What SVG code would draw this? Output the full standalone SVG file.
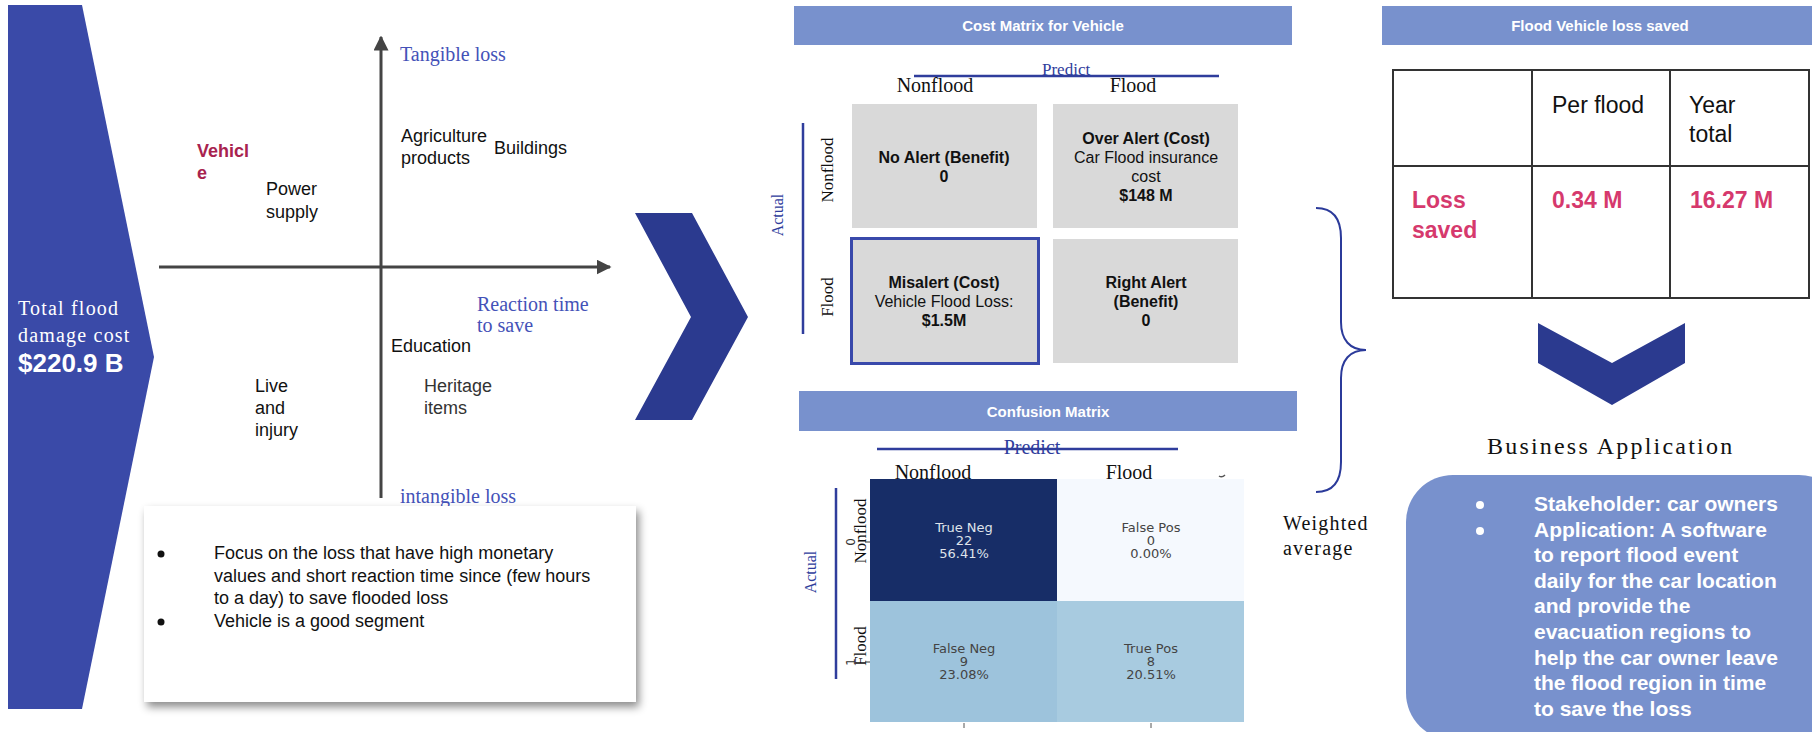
<svg xmlns="http://www.w3.org/2000/svg" width="1812" height="732" viewBox="0 0 1812 732">
  <style>
    .sans { font-family: "Liberation Sans", Arial, sans-serif; }
    .serif { font-family: "Liberation Serif", "Times New Roman", serif; }
    .dv { font-family: "DejaVu Sans", sans-serif; }
    .b { font-weight: bold; }
    .axis-lbl { font-family: "Liberation Serif", serif; font-size: 20px; fill: #4452b8; }
    .item { font-family: "Liberation Sans", Arial, sans-serif; font-size: 18px; fill: #111; }
    .item.grey { fill: #333; }
    .hdr { fill: #7891cd; }
    .hdr-t { font-family: "Liberation Sans", Arial, sans-serif; font-size: 15px; font-weight: bold; fill: #fff; }
    .cell { fill: #d9d9d9; }
    .cell-t { font-family: "Liberation Sans", Arial, sans-serif; font-size: 16px; fill: #111; }
    .col-lbl { font-family: "Liberation Serif", serif; font-size: 20px; fill: #111; }
    .row-lbl { font-family: "Liberation Serif", serif; font-size: 17px; fill: #111; }
    .blue-lbl { font-family: "Liberation Serif", serif; fill: #2f3d9c; }
    .rule { stroke: #2f3d9c; stroke-width: 2.5; fill: none; }
    .hm { font-family: "DejaVu Sans", sans-serif; font-size: 13px; fill: #444; }
    .hm.light { fill: #dfe3ea; }
    .tbl { stroke: #333; stroke-width: 2; fill: none; }
    .tbl-t { font-family: "Liberation Sans", Arial, sans-serif; font-size: 23px; fill: #111; }
    .pink { font-family: "Liberation Sans", Arial, sans-serif; font-size: 23px; font-weight: bold; fill: #d6396d; }
    .chev { fill: #2b3a8f; }
  </style>
  <defs>
    <marker id="axisHead" viewBox="0 0 10 10" refX="9" refY="5" markerWidth="5" markerHeight="5" orient="auto" markerUnits="strokeWidth">
      <path d="M0,0 L10,5 L0,10 z" fill="#444"/>
    </marker>
    <filter id="shadow" x="-10%" y="-10%" width="125%" height="130%">
      <feDropShadow dx="3" dy="5" stdDeviation="4" flood-color="#000" flood-opacity="0.45"/>
    </filter>
  </defs>

  <rect width="1812" height="732" fill="#ffffff"/>

  <!-- Total flood damage banner -->
  <g id="total-cost">
    <polygon points="8,5 82,5 154,357 82,709 8,709" fill="#3a4aa8"/>
    <text class="serif" font-size="20" letter-spacing="1.2" fill="#fff" x="18" y="315">Total flood</text>
    <text class="serif" font-size="20" letter-spacing="1.2" fill="#fff" x="18" y="342">damage cost</text>
    <text class="sans b" font-size="26" fill="#fff" x="18" y="372">$220.9 B</text>
  </g>

  <!-- Loss quadrant: tangible vs. reaction time -->
  <g id="loss-quadrant">
    <line x1="381" y1="498" x2="381" y2="37" stroke="#444" stroke-width="3" marker-end="url(#axisHead)"/>
    <line x1="159" y1="267" x2="610" y2="267" stroke="#444" stroke-width="3" marker-end="url(#axisHead)"/>
    <text class="axis-lbl" x="400" y="61">Tangible loss</text>
    <text class="axis-lbl" x="477" y="311">Reaction time</text>
    <text class="axis-lbl" x="477" y="332">to save</text>
    <text class="axis-lbl" x="400" y="503">intangible loss</text>
    <text class="sans b" font-size="18" fill="#a8234f" x="197" y="157">Vehicl</text>
    <text class="sans b" font-size="18" fill="#a8234f" x="197" y="179">e</text>
    <text class="item" x="266" y="195">Power</text>
    <text class="item" x="266" y="218">supply</text>
    <text class="item" x="401" y="142">Agriculture</text>
    <text class="item" x="401" y="164">products</text>
    <text class="item" x="494" y="154">Buildings</text>
    <text class="item" x="391" y="352">Education</text>
    <text class="item" x="255" y="392">Live</text>
    <text class="item" x="255" y="414">and</text>
    <text class="item" x="255" y="436">injury</text>
    <text class="item grey" x="424" y="392">Heritage</text>
    <text class="item grey" x="424" y="414">items</text>
  </g>

  <!-- Focus note -->
  <g id="focus-note">
    <rect x="144" y="506" width="492" height="196" fill="#fff" filter="url(#shadow)"/>
    <circle cx="161" cy="554" r="3.5" fill="#111"/>
    <circle cx="161" cy="622" r="3.5" fill="#111"/>
    <text class="item" x="214" y="559">Focus on the loss that have high monetary</text>
    <text class="item" x="214" y="582">values and short reaction time since (few hours</text>
    <text class="item" x="214" y="604">to a day) to save flooded loss</text>
    <text class="item" x="214" y="627">Vehicle is a good segment</text>
  </g>

  <!-- Cost matrix -->
  <g id="cost-matrix">
    <rect class="hdr" x="794" y="6" width="498" height="39"/>
    <text class="hdr-t" x="1043" y="31" text-anchor="middle">Cost Matrix for Vehicle</text>
    <line class="rule" x1="914" y1="76" x2="1219" y2="76"/>
    <text class="blue-lbl" font-size="17" x="1042" y="75">Predict</text>
    <text class="col-lbl" x="935" y="92" text-anchor="middle">Nonflood</text>
    <text class="col-lbl" x="1133" y="92" text-anchor="middle">Flood</text>
    <line class="rule" x1="803" y1="123" x2="803" y2="334"/>
    <text class="blue-lbl" font-size="16" transform="translate(783,215) rotate(-90)" text-anchor="middle">Actual</text>
    <text class="row-lbl" transform="translate(833,170) rotate(-90)" text-anchor="middle">Nonflood</text>
    <text class="row-lbl" transform="translate(833,297) rotate(-90)" text-anchor="middle">Flood</text>

    <rect class="cell" x="852" y="104" width="185" height="124"/>
    <rect class="cell" x="1053" y="104" width="185" height="124"/>
    <rect class="cell" x="851.5" y="238.5" width="187" height="125" stroke="#3949ab" stroke-width="3"/>
    <rect class="cell" x="1053" y="239" width="185" height="124"/>

    <text class="cell-t" text-anchor="middle" x="944" y="163"><tspan class="b">No Alert (Benefit)</tspan><tspan class="b" x="944" dy="19">0</tspan></text>
    <text class="cell-t" text-anchor="middle" x="1146" y="144"><tspan class="b">Over Alert (Cost)</tspan><tspan x="1146" dy="19">Car Flood insurance</tspan><tspan x="1146" dy="19">cost</tspan><tspan class="b" x="1146" dy="19">$148 M</tspan></text>
    <text class="cell-t" text-anchor="middle" x="944" y="288"><tspan class="b">Misalert (Cost)</tspan><tspan x="944" dy="19">Vehicle Flood Loss:</tspan><tspan class="b" x="944" dy="19">$1.5M</tspan></text>
    <text class="cell-t b" text-anchor="middle" x="1146" y="288"><tspan>Right Alert</tspan><tspan x="1146" dy="19">(Benefit)</tspan><tspan x="1146" dy="19">0</tspan></text>
  </g>

  <!-- Confusion matrix -->
  <g id="confusion-matrix">
    <rect class="hdr" x="799" y="391" width="498" height="40"/>
    <text class="hdr-t" x="1048" y="417" text-anchor="middle">Confusion Matrix</text>
    <text class="blue-lbl" font-size="20" x="1032" y="454" text-anchor="middle">Predict</text>
    <line class="rule" x1="877" y1="449" x2="1178" y2="449"/>
    <text class="col-lbl" x="933" y="479" text-anchor="middle">Nonflood</text>
    <text class="col-lbl" x="1129" y="479" text-anchor="middle">Flood</text>
    <path d="M1219,476 q3,2 6,-1" stroke="#555" stroke-width="1.5" fill="none"/>

    <rect x="870" y="479" width="187" height="122" fill="#172d67"/>
    <rect x="1057" y="479" width="187" height="122" fill="#f5f9fe"/>
    <rect x="870" y="601" width="187" height="121" fill="#9dc3dc"/>
    <rect x="1057" y="601" width="187" height="121" fill="#a8cbe0"/>

    <line class="rule" x1="836" y1="488" x2="836" y2="679"/>
    <text class="blue-lbl" font-size="16" transform="translate(816,572) rotate(-90)" text-anchor="middle">Actual</text>
    <text class="row-lbl" font-size="18" transform="translate(866,531) rotate(-90)" text-anchor="middle">Nonflood</text>
    <text class="row-lbl" font-size="18" transform="translate(866,646) rotate(-90)" text-anchor="middle">Flood</text>
    <text class="dv" font-size="12" fill="#333" transform="translate(855,542) rotate(-90)" text-anchor="middle">0</text>
    <text class="dv" font-size="12" fill="#333" transform="translate(855,662) rotate(-90)" text-anchor="middle">1</text>
    <line x1="865" y1="542" x2="870" y2="542" stroke="#333" stroke-width="1"/>
    <line x1="865" y1="662" x2="870" y2="662" stroke="#333" stroke-width="1"/>
    <line x1="964" y1="723" x2="964" y2="728" stroke="#555" stroke-width="1"/>
    <line x1="1151" y1="723" x2="1151" y2="728" stroke="#555" stroke-width="1"/>

    <text class="hm light" text-anchor="middle" x="964" y="532"><tspan>True Neg</tspan><tspan x="964" dy="13">22</tspan><tspan x="964" dy="13">56.41%</tspan></text>
    <text class="hm" text-anchor="middle" x="1151" y="532"><tspan>False Pos</tspan><tspan x="1151" dy="13">0</tspan><tspan x="1151" dy="13">0.00%</tspan></text>
    <text class="hm" text-anchor="middle" x="964" y="653"><tspan>False Neg</tspan><tspan x="964" dy="13">9</tspan><tspan x="964" dy="13">23.08%</tspan></text>
    <text class="hm" text-anchor="middle" x="1151" y="653"><tspan>True Pos</tspan><tspan x="1151" dy="13">8</tspan><tspan x="1151" dy="13">20.51%</tspan></text>
  </g>

  <!-- Weighted average label -->
  <g id="weighted-average">
    <text class="serif" font-size="20" letter-spacing="1.2" fill="#111" x="1283" y="530">Weighted</text>
    <text class="serif" font-size="20" letter-spacing="1.2" fill="#111" x="1283" y="555">average</text>
  </g>

  <!-- Loss saved table -->
  <g id="loss-table">
    <rect class="hdr" x="1382" y="6" width="430" height="39"/>
    <text class="hdr-t" x="1600" y="31" text-anchor="middle">Flood Vehicle loss saved</text>
    <rect class="tbl" x="1393" y="70" width="416" height="228"/>
    <line class="tbl" x1="1532" y1="70" x2="1532" y2="298"/>
    <line class="tbl" x1="1670" y1="70" x2="1670" y2="298"/>
    <line class="tbl" x1="1393" y1="166" x2="1809" y2="166"/>
    <text class="tbl-t" x="1552" y="113">Per flood</text>
    <text class="tbl-t" x="1689" y="113">Year</text>
    <text class="tbl-t" x="1689" y="142">total</text>
    <text class="pink" x="1412" y="208">Loss</text>
    <text class="pink" x="1412" y="238">saved</text>
    <text class="pink" x="1552" y="208">0.34 M</text>
    <text class="pink" x="1690" y="208">16.27 M</text>
  </g>

  <!-- Business application -->
  <g id="business-application">
    <text class="serif" font-size="24" letter-spacing="2.2" fill="#111" x="1487" y="454">Business Application</text>
    <rect x="1406" y="475" width="440" height="265" rx="47" fill="#7891cd"/>
    <circle cx="1480" cy="505" r="4" fill="#fff"/>
    <circle cx="1480" cy="531" r="4" fill="#fff"/>
    <text class="sans b" font-size="21" fill="#fff" x="1534" y="511"><tspan>Stakeholder: car owners</tspan><tspan x="1534" dy="25.6">Application: A software</tspan><tspan x="1534" dy="25.6">to report flood event</tspan><tspan x="1534" dy="25.6">daily for the car location</tspan><tspan x="1534" dy="25.6">and provide the</tspan><tspan x="1534" dy="25.6">evacuation regions to</tspan><tspan x="1534" dy="25.6">help the car owner leave</tspan><tspan x="1534" dy="25.6">the flood region in time</tspan><tspan x="1534" dy="25.6">to save the loss</tspan></text>
  </g>

  <!-- Flow connectors: chevrons and brace -->
  <g id="connectors">
    <polygon class="chev" points="635,213 692,213 748,317 692,420 635,420 691,317"/>
    <polygon class="chev" points="1538,323 1612,363 1685,323 1685,363 1612,405 1538,363"/>
    <path d="M1316,208 C1334,208 1341,220 1341,238 L1341,322 C1341,340 1350,350 1366,350 C1350,350 1341,360 1341,378 L1341,462 C1341,480 1334,492 1316,492" stroke="#2b3a9a" stroke-width="2" fill="none"/>
  </g>
</svg>
